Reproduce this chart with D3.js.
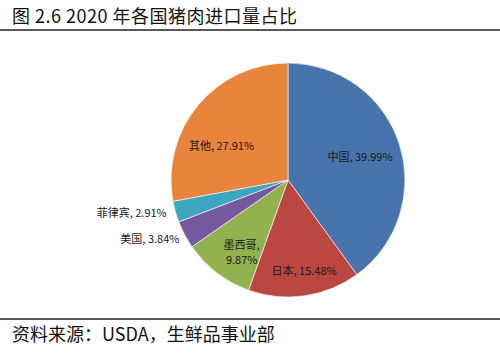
<!DOCTYPE html>
<html>
<head>
<meta charset="utf-8">
<script src="https://cdn.jsdelivr.net/npm/d3@7"></script>
<style>
  body { margin: 0; background: #fff; }
  svg { display: block; font-family: "Noto Sans CJK SC", "Noto Sans", sans-serif; }
</style>
</head>
<body>
<svg width="500" height="354"></svg>
<script>
var countries = ["中国", "日本", "墨西哥", "美国", "菲律宾", "其他"];
var shares = [39.99, 15.48, 9.87, 3.84, 2.91, 27.91];
var colors = ["#4774ad", "#bb4642", "#92b250", "#7558a0", "#3fa6c2", "#e8843c"];

var svg = d3.select("svg"),
    width = +svg.attr("width"),
    height = +svg.attr("height"),
    radius = 117,
    g = svg.append("g").attr("transform", "translate(288,180)");

var data = countries.map(function(c, i) { return { name: c, value: shares[i] }; });

var pie = d3.pie().sort(null).value(function(d) { return d.value; });
var arc = d3.arc().innerRadius(0).outerRadius(radius);
var arcs = pie(data);

g.selectAll("path")
  .data(arcs)
  .enter().append("path")
    .attr("d", arc)
    .attr("fill", function(d, i) { return colors[i]; })
    .attr("stroke", "#fff")
    .attr("stroke-width", 0.6);

// label placement: radius factor, nudge, anchor, line split
var labelLayout = [
  { r: 0.62, dx: 3, dy: 0, anchor: "middle", split: false },
  { r: 0.79, dx: 3, dy: 0, anchor: "middle", split: false },
  { r: 0.75, dx: 7, dy: 3, anchor: "middle", split: true },
  { r: 1.05, dx: 0, dy: 2, anchor: "end", split: false },
  { r: 1.05, dx: -3, dy: 0, anchor: "end", split: false },
  { r: 0.65, dx: -8, dy: 15, anchor: "middle", split: false }
];

var labels = g.selectAll("text.lbl")
  .data(arcs)
  .enter().append("text")
    .attr("class", "lbl")
    .attr("font-size", 11)
    .attr("fill", "#1a1a1a")
    .attr("text-anchor", function(d, i) { return labelLayout[i].anchor; })
    .attr("transform", function(d, i) {
      var L = labelLayout[i];
      var c = d3.arc().innerRadius(radius * L.r).outerRadius(radius * L.r).centroid(d);
      return "translate(" + (c[0] + L.dx) + "," + (c[1] + L.dy) + ")";
    });

labels.each(function(d, i) {
  var t = d3.select(this);
  var pct = d.data.value.toFixed(2) + "%";
  if (labelLayout[i].split) {
    t.append("tspan").attr("x", 0).attr("dy", "-0.35em").text(d.data.name + ",");
    t.append("tspan").attr("x", 0).attr("dy", "1.4em").text(pct);
  } else {
    t.attr("dy", "0.35em").text(d.data.name + ", " + pct);
  }
});

// title and source
svg.append("text")
  .attr("x", 12).attr("y", 23)
  .attr("font-size", 18).attr("letter-spacing", 0.5).attr("fill", "#111")
  .text("图 2.6 2020 年各国猪肉进口量占比");

svg.append("line")
  .attr("x1", 0).attr("x2", width).attr("y1", 30).attr("y2", 30)
  .attr("stroke", "#222").attr("stroke-width", 1.6);

svg.append("line")
  .attr("x1", 0).attr("x2", width).attr("y1", 319).attr("y2", 319)
  .attr("stroke", "#222").attr("stroke-width", 1.6);

svg.append("text")
  .attr("x", 12).attr("y", 341)
  .attr("font-size", 18).attr("fill", "#111")
  .text("资料来源：USDA，生鲜品事业部");
</script>
</body>
</html>
